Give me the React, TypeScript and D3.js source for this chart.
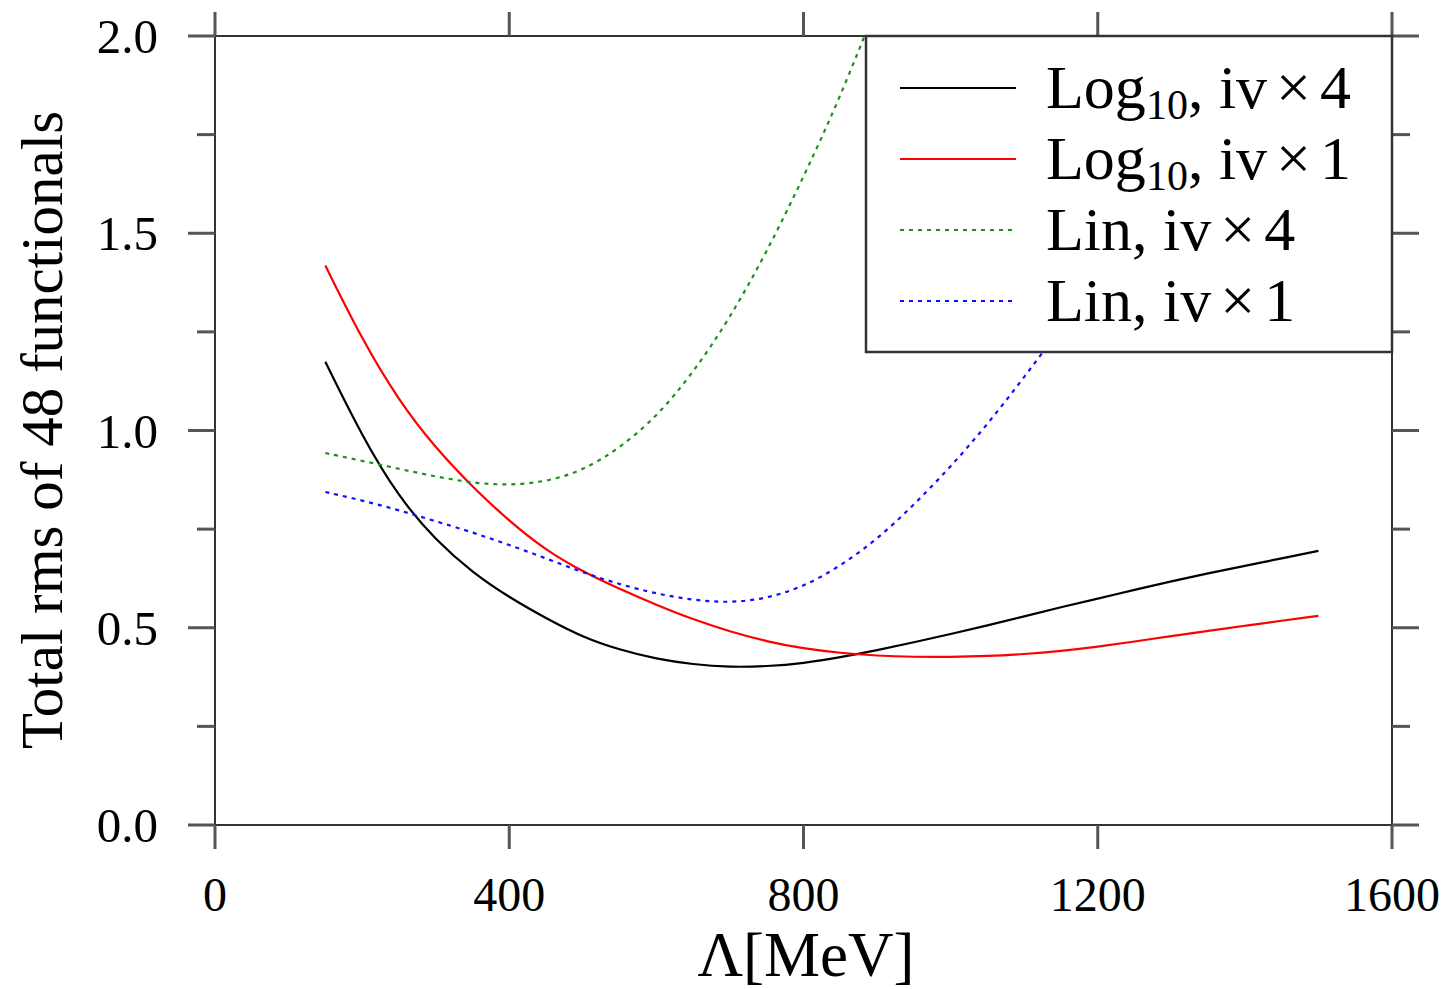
import * as d3 from 'd3';

// Λ values (MeV) sampled along the curves
const lamLog = [150, 200, 250, 300, 350, 400, 450, 500, 550, 600, 650, 700, 750, 800, 850, 900, 950, 1000, 1050, 1100, 1150, 1200, 1250, 1300, 1350, 1400, 1450, 1500];
const logIv4 = [1.174, 0.985, 0.830, 0.722, 0.640, 0.577, 0.524, 0.476, 0.444, 0.421, 0.407, 0.400, 0.402, 0.410, 0.425, 0.443, 0.463, 0.484, 0.506, 0.529, 0.552, 0.574, 0.596, 0.618, 0.638, 0.657, 0.676, 0.695];
const logIv1 = [1.418, 1.230, 1.075, 0.955, 0.857, 0.770, 0.696, 0.642, 0.598, 0.558, 0.521, 0.490, 0.465, 0.447, 0.436, 0.429, 0.426, 0.426, 0.428, 0.433, 0.441, 0.452, 0.465, 0.479, 0.492, 0.505, 0.518, 0.530];

const lamLin4 = [150, 200, 250, 300, 350, 400, 450, 500, 550, 600, 650, 700, 750, 800, 850, 900];
const linIv4 = [0.943, 0.923, 0.903, 0.883, 0.867, 0.861, 0.870, 0.898, 0.955, 1.034, 1.146, 1.285, 1.452, 1.642, 1.845, 2.08];

const lamLin1 = [150, 200, 250, 300, 350, 400, 450, 500, 550, 600, 650, 700, 750, 800, 850, 900, 950, 1000, 1050, 1100, 1150, 1200];
const linIv1 = [0.844, 0.823, 0.798, 0.770, 0.742, 0.710, 0.676, 0.640, 0.610, 0.586, 0.570, 0.563, 0.574, 0.604, 0.656, 0.724, 0.811, 0.908, 1.015, 1.135, 1.260, 1.400];

const xTicks = [0, 400, 800, 1200, 1600];
const yTicks = [0, 0.25, 0.5, 0.75, 1.0, 1.25, 1.5, 1.75, 2.0];

const series = [
  { name: 'Log', factor: '4', xs: lamLog, ys: logIv4, color: '#000000', dash: null },
  { name: 'Log', factor: '1', xs: lamLog, ys: logIv1, color: '#ff0000', dash: null },
  { name: 'Lin', factor: '4', xs: lamLin4, ys: linIv4, color: '#1f8f1f', dash: '4,5' },
  { name: 'Lin', factor: '1', xs: lamLin1, ys: linIv1, color: '#1010ff', dash: '4,5' },
];

const W = 1449, H = 989;
const left = 215, right = 1392, top = 36, bottom = 825;
const FONT = '"Liberation Serif", "Times New Roman", serif';

export default function App() {
  const x = d3.scaleLinear().domain([0, 1600]).range([left, right]);
  const y = d3.scaleLinear().domain([0, 2]).range([bottom, top]);

  // basis spline smooths out the reading noise in the sampled values
  const line = d3.line<[number, number]>()
    .x(d => x(d[0]))
    .y(d => y(d[1]))
    .curve(d3.curveBasis);

  const frame = '#333';
  const tickCol = '#555';
  const isMajor = (t: number) => Math.abs(t * 2 - Math.round(t * 2)) < 1e-6;

  return (
    <div style={{ position: 'absolute', left: 0, top: 0 }}>
      <svg width={W} height={H} style={{ display: 'block', background: '#fff' }}>
        <defs>
          <clipPath id="plot">
            <rect x={left} y={top} width={right - left} height={bottom - top} />
          </clipPath>
        </defs>

        {/* curves */}
        <g clipPath="url(#plot)">
          {series.map((s, i) => (
            <path key={i}
              d={line(s.xs.map((v, j) => [v, s.ys[j]] as [number, number])) || ''}
              fill="none" stroke={s.color} strokeWidth={2.2}
              strokeDasharray={s.dash || undefined} />
          ))}
        </g>

        {/* frame */}
        <rect x={left} y={top} width={right - left} height={bottom - top} fill="none" stroke={frame} strokeWidth={2} />

        {/* x ticks, outward on top and bottom */}
        {xTicks.map(t => (
          <g key={'x' + t} stroke={tickCol} strokeWidth={3}>
            <line x1={x(t)} x2={x(t)} y1={bottom} y2={bottom + 24} />
            <line x1={x(t)} x2={x(t)} y1={top} y2={top - 24} />
          </g>
        ))}
        {xTicks.map(t => (
          <text key={'xl' + t} x={x(t)} y={911} textAnchor="middle" fontFamily={FONT} fontSize={48}>{t}</text>
        ))}

        {/* y ticks, outward on left and right */}
        {yTicks.map(t => {
          const len = isMajor(t) ? 27 : 18;
          return (
            <g key={'y' + t} stroke={tickCol} strokeWidth={3}>
              <line x1={left - len} x2={left} y1={y(t)} y2={y(t)} />
              <line x1={right} x2={right + len} y1={y(t)} y2={y(t)} />
            </g>
          );
        })}
        {yTicks.filter(isMajor).map(t => (
          <text key={'yl' + t} x={158} y={y(t)} dy="0.35em" textAnchor="end" fontFamily={FONT} fontSize={49}>{t.toFixed(1)}</text>
        ))}

        {/* axis titles */}
        <text x={806} y={976} textAnchor="middle" fontFamily={FONT} fontSize={63}>Λ[MeV]</text>
        <text transform={`translate(62,${430}) rotate(-90)`} textAnchor="middle" fontFamily={FONT} fontSize={59}>Total rms of 48 functionals</text>

        {/* legend */}
        <rect x={866} y={top} width={right - 866} height={352 - top} fill="#fff" stroke={frame} strokeWidth={2.5} />
        {series.map((s, i) => {
          const ly = 88 + i * 71;
          return (
            <g key={'lg' + i}>
              <line x1={900} x2={1016} y1={ly} y2={ly} stroke={s.color} strokeWidth={2.2}
                strokeDasharray={s.dash || undefined} />
              <text x={1046} y={ly + 20} fontFamily={FONT} fontSize={62}>
                {s.name}
                {s.name === 'Log' ? <tspan fontSize={42} dy={11}>10</tspan> : null}
                <tspan dy={s.name === 'Log' ? -11 : 0}>, iv</tspan>
                <tspan dx={9}>×</tspan>
                <tspan dx={9}>{s.factor}</tspan>
              </text>
            </g>
          );
        })}
      </svg>
    </div>
  );
}
